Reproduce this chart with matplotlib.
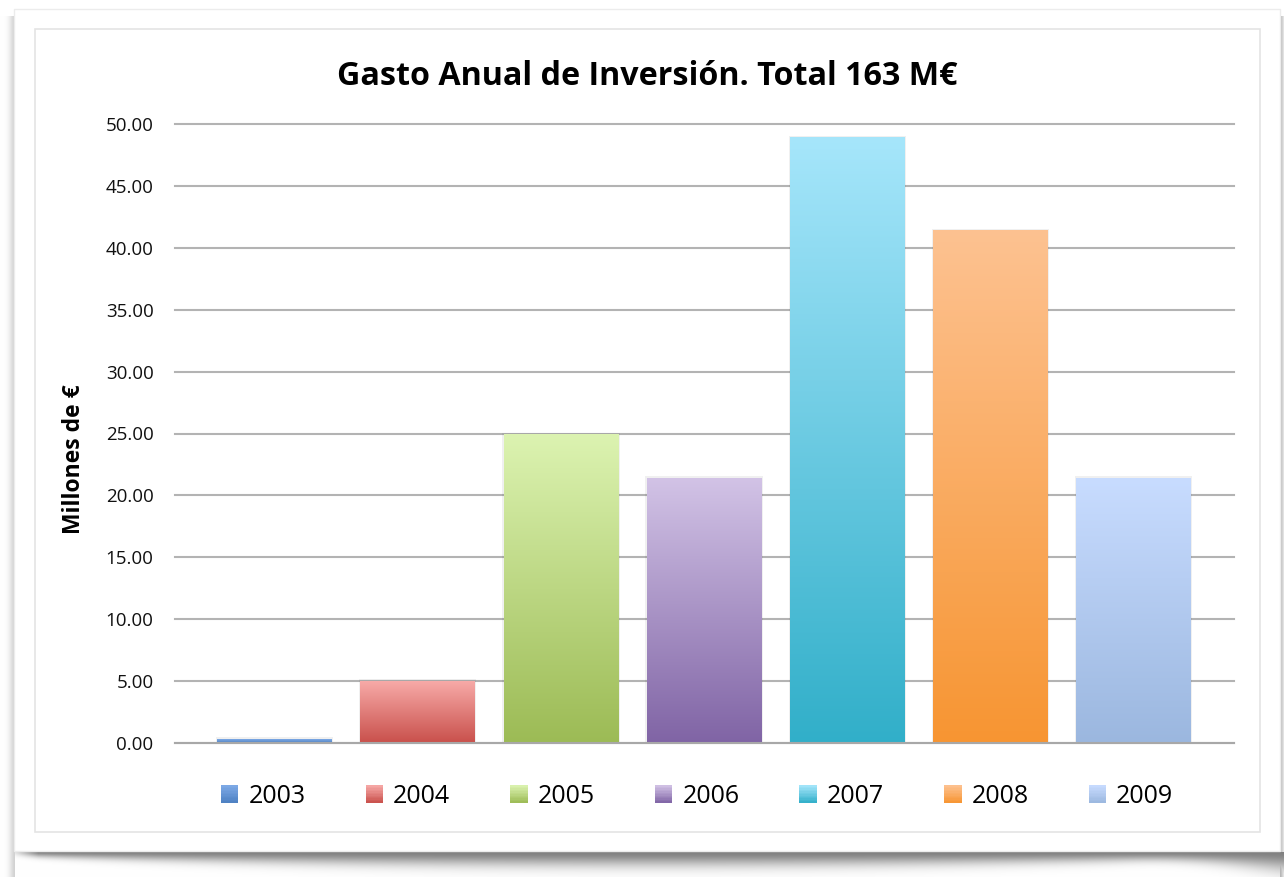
import numpy as np
import matplotlib
matplotlib.use("Agg")
import matplotlib.pyplot as plt
from matplotlib.colors import LinearSegmentedColormap, to_rgb
from matplotlib.patches import Rectangle
from matplotlib.legend_handler import HandlerBase

plt.rcParams['font.family'] = ['Open Sans', 'DejaVu Sans']

# Gasto anual de inversion (millones de euros)
years = ['2003', '2004', '2005', '2006', '2007', '2008', '2009']
gasto = [0.32, 5.0, 24.9, 21.4, 48.9, 41.4, 21.4]

# colores del degradado de cada barra: arriba, abajo
color_top = ['#7eaae6', '#f7aaa8', '#dcf3b1', '#d2c3e6', '#a6e6fb', '#fdc291', '#c8dcff']
color_bottom = ['#4d80c2', '#c9504b', '#9cbb55', '#8064a5', '#31afc9', '#f79532', '#9bb7df']


class Degradado:
    def __init__(self, top, bottom):
        self.top = np.array(to_rgb(top))
        self.bottom = np.array(to_rgb(bottom))


class HandlerDegradado(HandlerBase):
    # cuadradito de la leyenda con el mismo degradado que la barra
    def create_artists(self, legend, orig_handle, xdescent, ydescent, width, height, fontsize, trans):
        n = 12
        arts = []
        for k in range(n):
            t = (k + 0.5) / n
            c = orig_handle.bottom * (1 - t) + orig_handle.top * t
            r = Rectangle((-xdescent, -ydescent + k * height / n), width, height / n + 0.4,
                          facecolor=c, lw=0, transform=trans)
            arts.append(r)
        return arts


W, H = 1284, 877
fig = plt.figure(figsize=(W / 100, H / 100), dpi=100)
fig.patch.set_facecolor('white')

# fondo: tarjeta blanca con sombra
bg = fig.add_axes([0, 0, 1, 1], zorder=-10)
bg.set_xlim(0, W)
bg.set_ylim(H, 0)
bg.axis('off')

yy, xx = np.mgrid[0:H, 0:W]
# sombra inferior, mas gruesa en el centro y en la esquina derecha
u = np.clip((xx - 14) / (W - 14), 0, 1)
grosor = 4 + 10 * np.sin(u * np.pi) ** 0.7 + 14 * np.clip((u - 0.88) / 0.12, 0, 1) ** 2
dy = yy - 851
fade_izq = np.clip((xx - 8) / 30.0, 0, 1)
sombra = np.where(dy > 0, np.exp(-(dy / grosor) ** 2), 0.0) * 0.5 * fade_izq
# sombra lateral izquierda y derecha
dxl = 15 - xx
sombra = np.maximum(sombra, np.where((dxl > 0) & (yy > 15), np.exp(-(dxl / 6.0) ** 2) * 0.18, 0))
dxr = xx - 1279
sombra = np.maximum(sombra, np.where((dxr > 0) & (yy > 15), np.exp(-(dxr / 4.0) ** 2) * 0.3, 0))
img = np.ones((H, W, 3)) * (1 - sombra[..., None])
bg.imshow(img, extent=[0, W, H, 0], aspect='auto', interpolation='bilinear')
bg.add_patch(Rectangle((14, 9), 1266, 842, facecolor='white', edgecolor='#ececec', lw=1))
bg.add_patch(Rectangle((35, 29), 1225, 803, facecolor='none', edgecolor='#e4e4e4', lw=1.2))

ax = fig.add_axes([175 / W, (H - 743) / H, (1234 - 175) / W, (743 - 124) / H])
ax.set_facecolor('none')
x = np.arange(len(years))
ax.set_xlim(-0.695, 6.70)
ax.set_ylim(0, 50)

ancho = 0.8
bars = ax.bar(x, gasto, width=ancho, color='none', zorder=3)
for i, b in enumerate(bars):
    x0, h = b.get_x(), b.get_height()
    cmap = LinearSegmentedColormap.from_list('g%d' % i, [color_bottom[i], color_top[i]])
    grad = np.linspace(0, 1, 256).reshape(-1, 1)
    ax.imshow(grad, cmap=cmap, origin='lower', aspect='auto',
              extent=[x0, x0 + b.get_width(), 0, h], zorder=3, interpolation='bicubic')
    # sombra suave alrededor de la barra
    ax.add_patch(Rectangle((x0 - 0.01, 0), b.get_width() + 0.02, h + 0.15,
                           facecolor='#000000', alpha=0.06, lw=0, zorder=2.5))

ax.set_yticks(np.arange(0, 50.1, 5))
ax.set_yticklabels(['%.2f' % v for v in np.arange(0, 50.1, 5)], fontsize=13.5)
ax.set_xticks([])
ax.yaxis.grid(True, color='#b3b3b3', lw=1.5, zorder=1)
ax.tick_params(axis='y', length=0, pad=15.5, colors='#111111')
for s in ['top', 'right', 'left']:
    ax.spines[s].set_visible(False)
ax.spines['bottom'].set_color('#a8a8a8')
ax.spines['bottom'].set_linewidth(1.5)
ax.spines['bottom'].set_zorder(4)
for gl in ax.get_ygridlines():
    gl.set_clip_on(False)

fig.text(74 / W, (H - 459) / H, 'Millones de €', rotation=90, ha='center', va='center',
         fontsize=16.5, fontweight='bold')
fig.text(0.504, 0.913, 'Gasto Anual de Inversión. Total 163 M€', ha='center', va='center',
         fontsize=23.2, fontweight='bold')

handles = [Degradado(t, b) for t, b in zip(color_top, color_bottom)]
leg = fig.legend(handles, years, loc='center', bbox_to_anchor=(0.543, 0.092), ncol=7,
                 frameon=False, fontsize=18, handlelength=0.7, handleheight=0.7,
                 handletextpad=0.4, columnspacing=2.4,
                 handler_map={Degradado: HandlerDegradado()})

fig.savefig('out.png', dpi=100)
